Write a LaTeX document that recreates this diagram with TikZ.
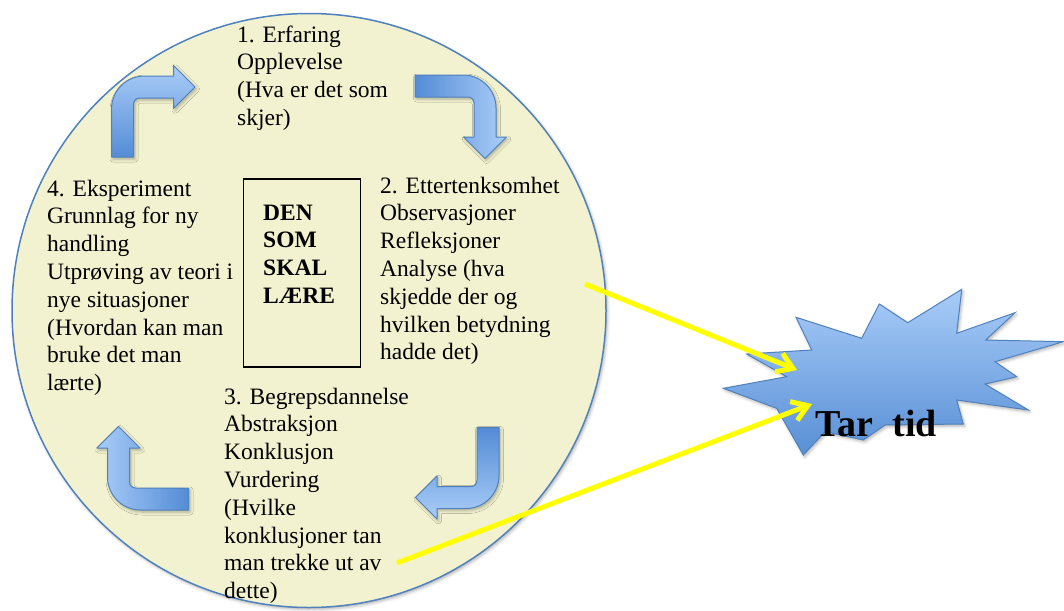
\documentclass[tikz,border=0pt]{standalone}
\usepackage{fontspec}
\setmainfont{Liberation Serif}
\usetikzlibrary{arrows.meta,shadows.blur}

\definecolor{discfill}{RGB}{242,242,208}
\definecolor{edgeblue}{RGB}{79,129,189}
\definecolor{lightblue}{RGB}{170,205,248}
\definecolor{darkblue}{RGB}{84,140,214}
\definecolor{burstlight}{RGB}{168,204,248}
\definecolor{burstdark}{RGB}{88,143,213}
\definecolor{marker}{RGB}{255,255,0}

\begin{document}
\begin{tikzpicture}[x=1pt,y=-1pt,
  body/.style={font=\fontsize{23.5}{27.8}\selectfont, anchor=base west, inner sep=0pt},
  learner/.style={font=\fontsize{23.5}{27.8}\selectfont\bfseries, anchor=base west, inner sep=0pt},
  softshadow/.style={blur shadow={shadow xshift=1.5pt, shadow yshift=-2pt, shadow blur radius=3pt, shadow opacity=30}},
  bendfill/.style={draw=edgeblue, line width=1pt, line join=round, bottom color=darkblue, top color=lightblue},
  pointer/.style={draw=marker, line width=5pt, -{Straight Barb[length=15pt,width=20pt]}},
  pics/bentarrow/.style={code={
    % tail below the corner, head pointing right (local frame, y down)
    \path[bendfill, softshadow, shading angle=#1]
      (-11,70) -- (-11,22) arc[start angle=180, end angle=270, radius=33]
      -- (51,-11) -- (51,-21.5) -- (72.5,0) -- (51,21.5) -- (51,11)
      -- (17,11) arc[start angle=270, end angle=180, radius=6]
      -- (11,70) -- cycle;
  }},
]
\useasboundingbox (0,0) rectangle (1064,610);

% the learning cycle disc
\node[circle, minimum size=594pt, inner sep=0pt, fill=discfill, draw=edgeblue,
      line width=1.5pt, softshadow] (disc) at (309,310.5) {};

% the four stages
\node[body] (stage1) at (237,42) {\begin{tabular}[t]{@{}l@{}}1. Erfaring\\Opplevelse\\(Hva er det som\\skjer)\end{tabular}};
\node[body] (stage2) at (380,193) {\begin{tabular}[t]{@{}l@{}}2. Ettertenksomhet\\Observasjoner\\Refleksjoner\\Analyse (hva\\skjedde der og\\hvilken betydning\\hadde det)\end{tabular}};
\node[body] (stage3) at (224,404) {\begin{tabular}[t]{@{}l@{}}3. Begrepsdannelse\\Abstraksjon\\Konklusjon\\Vurdering\\(Hvilke\\konklusjoner tan\\man trekke ut av\\dette)\end{tabular}};
\node[body] (stage4) at (47,196) {\begin{tabular}[t]{@{}l@{}}4. Eksperiment\\Grunnlag for ny\\handling\\Utprøving av teori i\\nye situasjoner\\(Hvordan kan man\\bruke det man\\lærte)\end{tabular}};

% the learner in the middle
\node[draw=black, line width=1.3pt, minimum width=117pt, minimum height=188pt,
      inner sep=0pt, anchor=north west] (learnbox) at (242.7,178.3) {};
\node[learner] (learner) at (263,220) {\begin{tabular}[t]{@{}l@{}}DEN\\SOM\\SKAL\\LÆRE\end{tabular}};

% bent arrows between the stages
\pic[rotate=0] (turn1) at (122.5,87) {bentarrow=0};
\pic[rotate=-90] (turn2) at (485,86) {bentarrow=-90};
\pic[rotate=180] (turn3) at (488,497.5) {bentarrow=180};
\pic[rotate=90] (turn4) at (118.5,499) {bentarrow=90};

% the burst
\path[draw=edgeblue, line width=1pt, line join=miter, top color=burstlight, bottom color=burstdark, softshadow]
  (796,317.3) -- (811.7,350) -- (746.7,354) -- (786.7,376.7) -- (723.3,388.3)
  -- (776.7,408.3) -- (803.3,455) -- (825,431.7) -- (863.3,440) -- (885,425)
  -- (963.3,424) -- (956.7,400) -- (1028.3,410) -- (985,384) -- (1016.7,376.7)
  -- (995,361.7) -- (1063.3,341.7) -- (985.7,340) -- (1015,312.7) -- (956.7,333.3)
  -- (961.7,289.3) -- (907.7,322.7) -- (879.3,304) -- (861.7,338.3) -- cycle;
\node[font=\fontsize{38}{42}\selectfont\bfseries, anchor=base west, inner sep=0pt] (tartid) at (815.5,436) {Tar~~tid};

% pointers from the stages to the burst
\coordinate (srcA) at (585,284);
\coordinate (dstA) at (797,370);
\coordinate (srcB) at (397,563);
\coordinate (dstB) at (812,404);
\draw[pointer] (srcA) -- (dstA);
\draw[pointer] (srcB) -- (dstB);
\end{tikzpicture}
\end{document}
